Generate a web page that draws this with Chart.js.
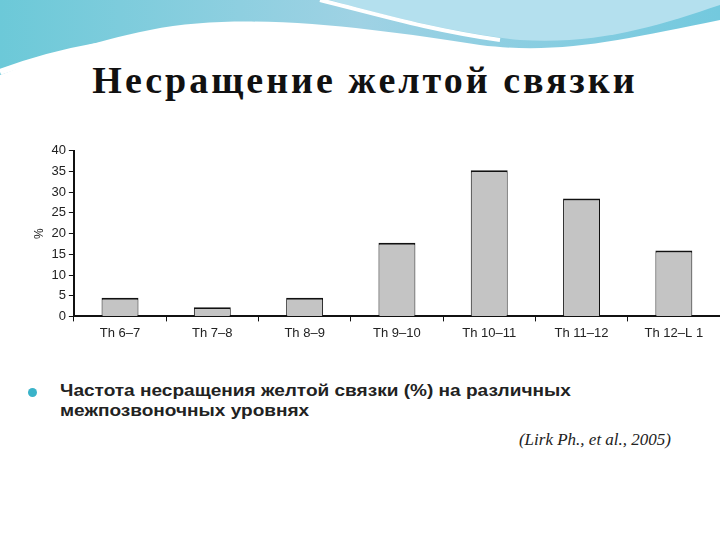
<!DOCTYPE html>
<html>
<head>
<meta charset="utf-8">
<script src="https://cdn.jsdelivr.net/npm/chart.js@4"></script>
<style>
  body { margin: 0; width: 720px; height: 540px; background: #fff; position: relative; overflow: hidden; font-family: "Liberation Sans", Arial, sans-serif; }
  #wave { position: absolute; left: 0; top: 0; }
  #title { position: absolute; left: 0; width: 730px; top: 58px; text-align: center; font-family: "Liberation Serif", serif; font-weight: bold; font-size: 38px; letter-spacing: 3px; color: #111; }
  #chartBox { position: absolute; left: 30px; top: 140px; width: 690px; height: 205px; }
  #bullet { position: absolute; left: 60px; top: 381px; font-size: 17px; font-weight: bold; color: #222; line-height: 20px; transform: scaleX(1.12); transform-origin: left top; }
  #dot { position: absolute; left: 28px; top: 388px; width: 9px; height: 9px; border-radius: 50%; background: #3ab3c9; }
  #cite { position: absolute; right: 49px; top: 430px; font-family: "Liberation Serif", serif; font-style: italic; font-size: 17px; color: #222; }
</style>
</head>
<body>
<svg id="wave" width="720" height="90">
  <defs>
    <linearGradient id="g1" x1="0" x2="1" y1="0" y2="0">
      <stop offset="0" stop-color="#6cc9d8"/>
      <stop offset="0.5" stop-color="#9fd2e4"/>
      <stop offset="1" stop-color="#73c9de"/>
    </linearGradient>
  </defs>
  <path d="M0 0 H720 V20 C620 40 560 55 480 45 C380 30 250 10 150 30 C90 42 40 60 0 75 Z" fill="url(#g1)"/>
  <path d="M330 0 C400 20 470 35 520 40 C600 45 660 25 720 5 V0 Z" fill="#b4e0ee"/>
  <path d="M0 72 C60 50 120 38 200 38 C300 40 380 50 480 48" stroke="#fff" stroke-width="6" fill="none"/>
  <path d="M320 0 C380 15 430 30 500 40" stroke="#fff" stroke-width="4" fill="none"/>
</svg>
<div id="title">Несращение желтой связки</div>
<div id="chartBox"><canvas id="c"></canvas></div>
<div id="dot"></div>
<div id="bullet">Частота несращения желтой связки (%) на различных<br>межпозвоночных уровнях</div>
<div id="cite">(Lirk Ph., et al., 2005)</div>
<script>
const levels = ["Th 6–7", "Th 7–8", "Th 8–9", "Th 9–10", "Th 10–11", "Th 11–12", "Th 12–L 1"];
const percents = [4.5, 2.2, 4.5, 17.8, 35.3, 28.5, 15.9];

new Chart(document.getElementById("c"), {
  type: "bar",
  data: {
    labels: levels,
    datasets: [{
      data: percents,
      backgroundColor: "#c4c4c4",
      borderColor: "#111",
      borderWidth: { top: 2, left: 1, right: 1, bottom: 0 },
      barPercentage: 0.4,
      categoryPercentage: 1
    }]
  },
  options: {
    responsive: true,
    maintainAspectRatio: false,
    animation: false,
    layout: { padding: { top: 8, right: 0 } },
    plugins: { legend: { display: false }, tooltip: { enabled: false } },
    scales: {
      y: {
        min: 0, max: 40,
        ticks: { stepSize: 5, color: "#222", font: { family: "Liberation Sans Narrow, Liberation Sans", size: 13 }, padding: 3 },
        grid: { drawOnChartArea: false, tickLength: 5, color: "#111" },
        border: { color: "#111", width: 2 },
        title: { display: true, text: "%", color: "#222", font: { size: 12 }, padding: 2 }
      },
      x: {
        ticks: { color: "#222", font: { family: "Liberation Sans Narrow, Liberation Sans", size: 13 }, padding: 4 },
        grid: { drawOnChartArea: false, offset: true, tickLength: 5, color: "#111" },
        border: { color: "#111", width: 2 }
      }
    }
  }
});
</script>
</body>
</html>
